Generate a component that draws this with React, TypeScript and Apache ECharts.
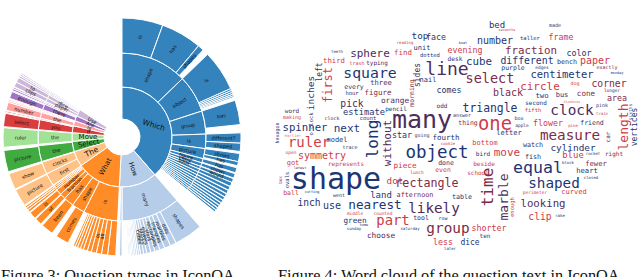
import React, { useEffect, useRef } from "react";
import * as echarts from "echarts";

type Node = { n: string; v: number; c?: Node[] };

// ---------- Sunburst data (values in degrees of arc) ----------
const topNames = ["Which", "How", "What", "The", "Select", "Move", "If", "Is", "Are", "Use"];
const topValues = [139, 44, 52, 18, 12, 10, 8, 6, 6, 8];
const topColors = ["#3583bd", "#b6cdea", "#ff8c26", "#ffc286", "#41aa41", "#a2e296", "#da3d3e", "#ffa2a1", "#9f76c4", "#cbb8d9"];
const gapValue = 57;

const whichTinyL2 = [2.2, 2, 1.9, 1.8, 1.7, 1.6, 1.5, 1.4, 1.3, 1.1];
const whichTinyL3 = [2, 1.8, 1.7, 1.6, 1.5, 1.4, 1.3, 1.2, 1.1, 1];

const whichKids: Node[] = [
  { n: "shape", v: 46, c: [{ n: "is", v: 20 }, { n: "has", v: 20 }, { n: "shapes", v: 3 }] },
  { n: "object", v: 26, c: [{ n: "is", v: 20 }, { n: "", v: 1 }, { n: "", v: 1 }, { n: "", v: 0.9 }, { n: "", v: 0.8 }, { n: "", v: 0.7 }] },
  { n: "group", v: 16, c: [{ n: "has", v: 12 }] },
  { n: "is", v: 10, c: [{ n: "different?", v: 5 }, { n: "shaped", v: 4 }] },
  { n: "picture", v: 7, c: [{ n: "shows", v: 4 }, { n: "has", v: 2 }] },
  { n: "figure", v: 3, c: [{ n: "has", v: 2.5 }] },
  { n: "clock", v: 2.5, c: [{ n: "shows", v: 2.2 }] },
  { n: "book", v: 2, c: [{ n: "would", v: 2 }] },
  ...whichTinyL2.map((v, i) => ({ n: "", v, c: [{ n: "", v: whichTinyL3[i] }] })),
];

const howKids: Node[] = [
  {
    n: "many", v: 41, c: [
      { n: "shapes", v: 14 }, { n: "dots", v: 3 }, { n: "marbles", v: 3 }, { n: "triangles", v: 2.5 },
      { n: "rectangles", v: 2.5 }, { n: "stars", v: 2 }, { n: "flowers", v: 2 }, { n: "blocks", v: 1.5 },
      { n: "cubes", v: 1.5 }, { n: "", v: 1 }, { n: "", v: 0.9 }, { n: "", v: 0.8 }, { n: "", v: 0.8 },
      { n: "", v: 0.7 }, { n: "", v: 0.6 }, { n: "", v: 0.6 }, { n: "", v: 0.5 },
    ],
  },
  { n: "", v: 1.5, c: [{ n: "", v: 1.2 }] },
];

const whatKids: Node[] = [
  {
    n: "is", v: 24, c: [
      { n: "", v: 4 }, { n: "", v: 3 }, { n: "all", v: 2.5 }, { n: "in", v: 2.5 }, { n: "", v: 2 },
      { n: "", v: 2 }, { n: "", v: 1.5 }, { n: "", v: 1.5 }, { n: "", v: 1.2 }, { n: "", v: 1 },
    ],
  },
  { n: "shape", v: 9, c: [{ n: "comes", v: 6.5 }] },
  { n: "has", v: 7, c: [{ n: "been", v: 6 }] },
  { n: "fraction", v: 4, c: [{ n: "of", v: 3.5 }] },
  { n: "number", v: 4, c: [{ n: "is", v: 3.5 }] },
  { n: "", v: 1.3, c: [{ n: "", v: 1.2 }] },
  { n: "", v: 1.2, c: [{ n: "", v: 1 }] },
  { n: "", v: 1, c: [{ n: "", v: 0.9 }] },
];

const theKids: Node[] = [
  { n: "first", v: 9, c: [{ n: "picture", v: 8.5 }] },
  { n: "clocks", v: 8.5, c: [{ n: "show", v: 8 }] },
];
const selectKids: Node[] = [{ n: "the", v: 11, c: [{ n: "picture", v: 10.5 }] }];
const moveKids: Node[] = [{ n: "the", v: 9.5, c: [{ n: "ruler", v: 9.5 }] }];
const ifKids: Node[] = [{ n: "you", v: 7, c: [{ n: "select", v: 6.5 }] }, { n: "", v: 0.7, c: [{ n: "", v: 0.6 }] }];
const isKids: Node[] = [
  { n: "the", v: 4, c: [{ n: "number", v: 4 }] },
  { n: "", v: 0.8, c: [{ n: "", v: 0.7 }] },
  { n: "", v: 0.7, c: [{ n: "", v: 0.6 }] },
];
const areKids: Node[] = [
  { n: "there", v: 4, c: [{ n: "enough", v: 3.5 }, { n: "", v: 0.5 }] },
  { n: "", v: 1, c: [{ n: "", v: 0.9 }] },
  { n: "", v: 0.8, c: [{ n: "", v: 0.7 }] },
];
const useKids: Node[] = [
  { n: "paper", v: 2.5, c: [{ n: "clips", v: 2.5 }] },
  { n: "dice", v: 2.5, c: [{ n: "to", v: 2.5 }] },
  { n: "", v: 1, c: [{ n: "", v: 1 }] },
  { n: "", v: 0.9, c: [{ n: "", v: 0.8 }] },
  { n: "", v: 0.8, c: [{ n: "", v: 0.7 }] },
];
const topKids = [whichKids, howKids, whatKids, theKids, selectKids, moveKids, ifKids, isKids, areKids, useKids];
const topLabelRotate: (number | null)[] = [-17, null, null, null, null, null, null, null, null, null];
const topLabelSize = [7.5, 6.5, 7, 7.5, 7, 7, 5, 5, 5, 5];

// ---------- Word cloud: [word, x, y, fontSize, tone, rotation] ----------
const tones: Record<string, string> = {
  N: "#1c3674",
  P: "#4d2d5c",
  M: "#7d2b48",
  R: "#cf3a48",
  L: "#e27a80",
};

const cloudWords: [string, number, number, number, string, number][] = [
  ["inches", 310, 93, 9.5, "N", 90],
  ["left", 319, 72, 8, "N", 90],
  ["word", 292, 110, 6, "P", 0],
  ["making", 292, 117, 5, "R", 0],
  ["o'clock", 311, 124, 5.5, "N", 90],
  ["spinner", 305, 127, 10.7, "N", 0],
  ["hexagon", 277, 133, 5, "N", 90],
  ["earlier", 293, 135, 4, "L", 0],
  ["ruler", 309, 142, 14, "R", 0],
  ["open", 291, 152, 4.5, "R", 0],
  ["symmetry", 322, 155, 10, "R", 0],
  ["got", 293, 163, 7, "R", 0],
  ["latest", 300, 168, 3.5, "N", 0],
  ["ovals", 287, 180, 5.5, "N", 90],
  ["box", 280, 180, 4.5, "R", 90],
  ["shape", 336, 178, 30, "N", 0],
  ["ball", 291, 193, 6.5, "R", 0],
  ["cutting", 312, 192, 3.5, "N", 0],
  ["inch", 309, 202, 9.6, "N", 0],
  ["use", 332, 205, 10, "N", 0],
  ["top", 420, 35, 9.3, "N", 0],
  ["face", 436, 37, 8.3, "P", 0],
  ["reading", 405, 42, 4, "R", 0],
  ["boat", 463, 43, 3.5, "N", 0],
  ["unit", 422, 48, 7, "N", 0],
  ["find", 403, 52, 7.5, "R", 0],
  ["evening", 465, 50, 8.3, "R", 0],
  ["dotted", 430, 55, 5.5, "N", 0],
  ["desk", 455, 58, 6.2, "P", 0],
  ["teeth", 337, 51, 4, "N", 0],
  ["third", 334, 60, 7.3, "R", 0],
  ["trash", 357, 63, 5, "R", 0],
  ["typing", 377, 62, 6, "P", 0],
  ["sphere", 370, 53, 11, "P", 0],
  ["square", 370, 72, 14.8, "N", 0],
  ["line", 447, 68, 18, "P", 0],
  ["select", 490, 78, 13.5, "M", 0],
  ["first", 328, 85, 12, "R", 90],
  ["sides", 417, 75, 8, "P", 90],
  ["three", 381, 82, 7.2, "P", 0],
  ["every", 354, 87, 6.5, "N", 0],
  ["nail", 428, 80, 7, "N", 0],
  ["comes", 449, 90, 8.3, "N", 0],
  ["figure", 378, 92, 7.5, "M", 0],
  ["morning", 412, 93, 6.5, "M", 90],
  ["hour", 352, 93, 5.5, "N", 0],
  ["pick", 352, 103, 9.7, "P", 0],
  ["orange", 395, 100, 7.8, "P", 0],
  ["estimate", 364, 112, 8.7, "N", 0],
  ["odd", 442, 105, 6, "N", 0],
  ["pencil", 396, 108, 6, "N", 0],
  ["triangle", 490, 108, 11.4, "N", 0],
  ["answer", 462, 115, 5, "N", 0],
  ["clock", 332, 118, 5, "N", 0],
  ["count", 368, 118, 5.5, "N", 0],
  ["many", 422, 119, 25, "P", 0],
  ["thing", 468, 123, 6.5, "M", 0],
  ["without", 387, 143, 11, "P", 90],
  ["next", 347, 128, 11, "N", 0],
  ["long", 372, 139, 16, "N", 90],
  ["star", 402, 135, 8.3, "N", 0],
  ["going", 422, 135, 5, "P", 0],
  ["fourth", 446, 137, 7.5, "N", 0],
  ["model", 337, 140, 7, "N", 0],
  ["trace", 350, 147, 5, "N", 0],
  ["object", 437, 152, 17.5, "N", 0],
  ["cookie", 448, 143, 4, "R", 0],
  ["represents", 346, 163, 6, "R", 0],
  ["piece", 405, 165, 7.7, "R", 0],
  ["done", 446, 163, 6.5, "N", 0],
  ["even", 443, 170, 6.5, "R", 0],
  ["lunch", 417, 172, 4.5, "R", 0],
  ["dot", 395, 180, 9.3, "R", 0],
  ["rectangle", 427, 183, 11.7, "M", 0],
  ["went", 339, 195, 5, "N", 0],
  ["land", 381, 195, 9, "N", 0],
  ["afternoon", 415, 195, 6.8, "M", 0],
  ["table", 462, 197, 6.7, "N", 0],
  ["nearest", 375, 204, 12.7, "N", 0],
  ["likely", 434, 208, 14.3, "P", 0],
  ["middle", 355, 213, 4.5, "R", 0],
  ["counted", 383, 213, 4.5, "R", 0],
  ["green", 355, 220, 7.7, "N", 0],
  ["part", 393, 220, 13.9, "R", 0],
  ["tool", 421, 218, 6.5, "N", 0],
  ["row", 443, 218, 5, "N", 0],
  ["home", 364, 225, 3.5, "N", 0],
  ["sunday", 354, 228, 4, "N", 0],
  ["saturday", 410, 228, 4, "N", 0],
  ["group", 448, 228, 14.4, "M", 0],
  ["choose", 381, 235, 7.8, "P", 0],
  ["less", 443, 242, 8.3, "R", 0],
  ["dice", 470, 242, 8, "N", 0],
  ["later", 450, 248, 4, "N", 0],
  ["shorter", 489, 228, 8.3, "R", 0],
  ["bed", 497, 25, 9, "N", 0],
  ["made", 555, 25, 5, "N", 0],
  ["sevenths", 507, 30, 3.5, "R", 0],
  ["number", 495, 40, 10, "N", 0],
  ["taller", 530, 38, 5.5, "N", 0],
  ["frame", 561, 37, 8.3, "R", 0],
  ["fraction", 531, 50, 10.8, "M", 0],
  ["color", 579, 53, 8.3, "N", 0],
  ["cube", 479, 61, 10.8, "N", 0],
  ["different", 527, 60, 9.8, "N", 0],
  ["bench", 567, 62, 6.7, "N", 0],
  ["paper", 595, 60, 10, "R", 0],
  ["purple", 513, 68, 6.5, "N", 0],
  ["edges", 542, 67, 4.5, "N", 0],
  ["exactly", 607, 67, 5, "M", 0],
  ["centimeter", 562, 74, 10.5, "N", 0],
  ["monday", 617, 73, 3.5, "N", 0],
  ["circle", 540, 86, 11, "R", 0],
  ["dog", 575, 83, 5, "R", 0],
  ["corner", 609, 83, 9.7, "M", 0],
  ["black", 508, 92, 10, "M", 0],
  ["two", 542, 95, 7.3, "N", 0],
  ["bus", 562, 95, 7, "N", 0],
  ["cone", 586, 93, 7.6, "M", 0],
  ["longer", 612, 90, 4.5, "N", 0],
  ["area", 617, 98, 8.3, "M", 0],
  ["second", 536, 102, 6, "N", 0],
  ["diamonds", 572, 102, 3.5, "L", 0],
  ["pink", 602, 105, 5, "N", 0],
  ["fifth", 533, 110, 5.5, "R", 0],
  ["clock", 572, 110, 14.4, "P", 0],
  ["length", 623, 127, 13, "R", 90],
  ["train", 602, 113, 4, "R", 0],
  ["sixths", 630, 112, 4.5, "N", 90],
  ["one", 495, 123, 18.8, "R", 0],
  ["box", 519, 118, 5, "N", 0],
  ["apple", 522, 125, 4.5, "N", 0],
  ["flower", 548, 123, 8.3, "R", 0],
  ["pine", 573, 125, 4, "R", 0],
  ["friend", 592, 123, 6.5, "N", 0],
  ["vertices", 634, 127, 8, "N", 90],
  ["letter", 509, 133, 7, "N", 0],
  ["measure", 570, 135, 14.3, "M", 0],
  ["car", 607, 137, 6, "N", 90],
  ["bottom", 485, 143, 7, "R", 0],
  ["watch", 533, 145, 6.7, "N", 0],
  ["cylinder", 573, 147, 9.4, "N", 0],
  ["move", 507, 152, 11, "R", 0],
  ["bird", 483, 153, 6, "N", 0],
  ["fish", 533, 157, 6.7, "N", 0],
  ["blue", 573, 155, 9, "R", 0],
  ["rocket", 593, 153, 4, "N", 0],
  ["right", 614, 153, 6, "M", 0],
  ["beside", 484, 163, 6, "R", 0],
  ["equal", 538, 167, 16.6, "N", 0],
  ["block", 568, 162, 4, "N", 0],
  ["fewer", 596, 163, 7.2, "M", 0],
  ["heart", 587, 170, 7.2, "N", 0],
  ["closed", 591, 177, 4, "N", 0],
  ["school", 478, 172, 6, "R", 0],
  ["time", 487, 187, 16, "M", 90],
  ["marble", 503, 197, 13, "P", 90],
  ["shaped", 554, 183, 14.3, "N", 0],
  ["perimeter", 535, 192, 4.5, "R", 0],
  ["curved", 574, 192, 7, "R", 0],
  ["enough", 512, 207, 5.5, "R", 90],
  ["looking", 543, 203, 10.7, "P", 0],
  ["clip", 540, 216, 9.7, "R", 0],
  ["rake", 560, 215, 4, "N", 0],
  ["ten", 485, 235, 6, "N", 0],
];

const captions = [
  { text: "Figure 3: Question types in IconQA.", x: 1 },
  { text: "Figure 4: Word cloud of the question text in IconQA.", x: 278 },
];

const CLOUD_LEFT = 270;

function buildNode(node: Node, color: string): any {
  const out: any = {
    name: node.n,
    value: node.v,
    itemStyle: { color },
  };
  if (!node.n) out.label = { show: false };
  if (node.c) out.children = node.c.map((ch) => buildNode(ch, color));
  return out;
}

export default function App() {
  const sunRef = useRef<HTMLDivElement>(null);
  const cloudRef = useRef<HTMLDivElement>(null);
  useEffect(() => {
    if (!sunRef.current || !cloudRef.current) return;
    const sunChart = echarts.init(sunRef.current, undefined, { renderer: "svg" });
    const cloudChart = echarts.init(cloudRef.current, undefined, { renderer: "svg" });

    const sunData: any[] = topNames.map((name, i) => {
      const d: any = {
        name,
        value: topValues[i],
        itemStyle: { color: topColors[i] },
        label: { fontSize: topLabelSize[i] },
        children: topKids[i].map((k) => buildNode(k, topColors[i])),
      };
      if (topLabelRotate[i] !== null) d.label.rotate = topLabelRotate[i];
      return d;
    });
    sunData.push({
      name: "",
      value: gapValue,
      itemStyle: { color: "rgba(0,0,0,0)", borderWidth: 0 },
      label: { show: false },
    });

    sunChart.setOption({
      animation: false,
      series: [
        {
          type: "sunburst",
          center: [122, 137],
          startAngle: 90,
          clockwise: true,
          sort: undefined,
          nodeClick: false,
          emphasis: { disabled: true },
          data: sunData,
          itemStyle: { borderColor: "#ffffff", borderWidth: 1 },
          label: {
            rotate: "radial",
            color: "#111111",
            fontFamily: "DejaVu Sans",
            fontSize: 5,
            minAngle: 0,
          },
          levels: [
            {},
            { r0: 18, r: 50, label: { fontSize: 7 } },
            { r0: 50, r: 84, label: { fontSize: 5 } },
            { r0: 84, r: 119, label: { fontSize: 5 } },
          ],
        },
      ],
      graphic: captions.map((c) => ({
        type: "text",
        x: c.x,
        y: 267.5,
        silent: true,
        style: {
          text: c.text,
          font: '16.3px "Liberation Serif"',
          fill: "#111111",
          verticalAlign: "top",
        },
      })),
    });

    cloudChart.setOption({
      animation: false,
      grid: { left: 0, right: 0, top: 0, bottom: 0, containLabel: false },
      xAxis: { type: "value", min: CLOUD_LEFT, max: 640, show: false },
      yAxis: { type: "value", min: 0, max: 277, inverse: true, show: false },
      series: [
        {
          type: "custom",
          silent: true,
          clip: false,
          data: cloudWords.map((w) => [w[1], w[2]]),
          renderItem: (params: any, api: any) => {
            const w = cloudWords[params.dataIndex];
            const p = api.coord([api.value(0), api.value(1)]);
            return {
              type: "text",
              x: p[0],
              y: p[1],
              rotation: (w[5] * Math.PI) / 180,
              style: {
                text: w[0],
                fontSize: w[3],
                fontFamily: "DejaVu Sans Mono",
                fill: tones[w[4]],
                align: "center",
                verticalAlign: "middle",
              },
            };
          },
        },
      ],
    });
    return () => {
      sunChart.dispose();
      cloudChart.dispose();
    };
  }, []);

  return (
    <div style={{ position: "fixed", left: 0, top: 0, width: 640, height: 277, background: "#ffffff" }}>
      <div ref={sunRef} style={{ position: "absolute", left: 0, top: 0, width: 640, height: 277 }} />
      <div
        ref={cloudRef}
        style={{ position: "absolute", left: CLOUD_LEFT, top: 0, width: 640 - CLOUD_LEFT, height: 277 }}
      />
    </div>
  );
}
